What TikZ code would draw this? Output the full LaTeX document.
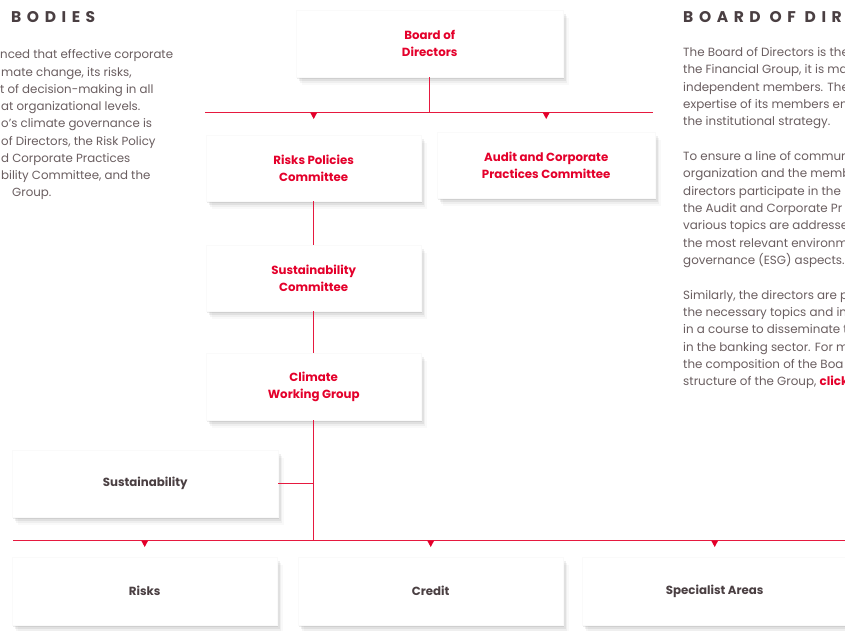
\documentclass[tikz,border=0pt]{standalone}
\usepackage{fontspec}
\setmainfont{Poppins}
\usetikzlibrary{shadows}
\definecolor{bred}{HTML}{E4002B}
\definecolor{lred}{HTML}{E6193F}
\definecolor{dtext}{HTML}{4A3F42}
\definecolor{btext}{HTML}{6A5E60}
\newcommand\downtri[1]{\fill[bred] (#1) ++(-3.5,0) -- ++(7,0) -- ++(-3.5,6.5) -- cycle;}
\begin{document}
\begin{tikzpicture}[x=1pt,y=-1pt,
  shad/.style={drop shadow={shadow xshift=1pt,shadow yshift=-2pt,opacity=0.08,fill=black},
               drop shadow={shadow xshift=2.5pt,shadow yshift=-4pt,opacity=0.06,fill=black},
               drop shadow={shadow xshift=4pt,shadow yshift=-6pt,opacity=0.04,fill=black},
               drop shadow={shadow xshift=6pt,shadow yshift=-8pt,opacity=0.025,fill=black}},
  card/.style={shad,fill=white,draw=black!2,line width=0.4pt,anchor=north west,
               align=center,inner sep=0pt,font=\bfseries\fontsize{11.8}{17.4}\selectfont},
  redcard/.style={card,text=bred},
  graycard/.style={card,text=dtext},
  conn/.style={draw=lred,line width=1.3pt},
  body/.style={anchor=north west,inner sep=0pt,align=left,text=btext,
               font=\fontsize{11.9}{17.35}\selectfont},
  head/.style={anchor=west,inner sep=0pt,text=dtext,
               font=\bfseries\fontsize{15.5}{16}\selectfont\addfontfeature{LetterSpace=36}}]
\useasboundingbox (0,0) rectangle (845,630);
\fill[white] (0,0) rectangle (845,630);
\clip (0,0) rectangle (845,630);

% headings
\node[head] (hl) at (11,17.5) {BODIES};
\node[head] (hr) at (683,17.5) {BOARD OF DIRE};

% left text fragments
\foreach \t/\xx [count=\i] in {{nced that effective corporate}/0,{mate change, its risks,}/1,{t of decision-making in all}/0,{at organizational levels.}/1,{o's climate governance is}/1,{of Directors, the Risk Policy}/1,{d Corporate Practices}/1,{bility Committee, and the}/1,{Group.}/12}{
  \node[anchor=west,inner sep=0pt,text=btext,font=\fontsize{11.8}{17.35}\selectfont] (l\i) at (\xx,56+17.25*\i-17.25) {\t};
}

% right text
\node[body] (rt) at (683,47) {The Board of Directors is the\\
the Financial Group, it is ma\\
independent members. The\\
expertise of its members en\\
the institutional strategy.\\[17.35pt]
To ensure a line of commun\\
organization and the memb\\
directors participate in the\\
the Audit and Corporate Pr\\
various topics are addresse\\
the most relevant environm\\
governance (ESG) aspects.\\[17.35pt]
Similarly, the directors are p\\
the necessary topics and in\\
in a course to disseminate t\\
in the banking sector. For m\\
the composition of the Boa\\
structure of the Group, \textcolor{bred}{\bfseries click}};

% cards
\node[redcard,minimum width=267pt,minimum height=67pt] (board) at (296,10) {Board of\\Directors};
\node[redcard,minimum width=215pt,minimum height=66pt] (risk) at (206,135) {Risks Policies\\Committee};
\node[redcard,minimum width=218pt,minimum height=66pt] (audit) at (437,132) {Audit and Corporate\\Practices Committee};
\node[redcard,minimum width=215pt,minimum height=66pt] (susc) at (206,245) {Sustainability\\Committee};
\node[redcard,minimum width=215pt,minimum height=67pt] (clim) at (206,353) {Climate\\Working Group};
\node[graycard,minimum width=266pt,minimum height=67pt] (sust) at (12,450) {Sustainability};
\node[graycard,minimum width=265pt,minimum height=68pt] (risks) at (12,557) {Risks};
\node[graycard,minimum width=265pt,minimum height=68pt] (credit) at (298,557) {Credit};
\node[graycard,minimum width=265pt,minimum height=68pt] (spec) at (582,557) {Specialist Areas};

% buses
\coordinate (b1L) at (205,112.5);
\coordinate (b1R) at (653,112.5);
\coordinate (b2L) at (13,540.5);
\coordinate (b2R) at (845,540.5);

\draw[conn] (board.south) -- (board.south |- b1L);
\draw[conn] (b1L) -- (b1R);
\downtri{risk.north |- b1L}
\downtri{audit.north |- b1L}
\draw[conn] (risk.south) -- (susc.north);
\draw[conn] (susc.south) -- (clim.north);
\draw[conn] (clim.south) -- (clim.south |- b2L);
\draw[conn] (sust.east) -- (sust.east -| clim.south);
\draw[conn] (b2L) -- (b2R);
\downtri{risks.north |- b2L}
\downtri{credit.north |- b2L}
\downtri{spec.north |- b2L}
\end{tikzpicture}
\end{document}
